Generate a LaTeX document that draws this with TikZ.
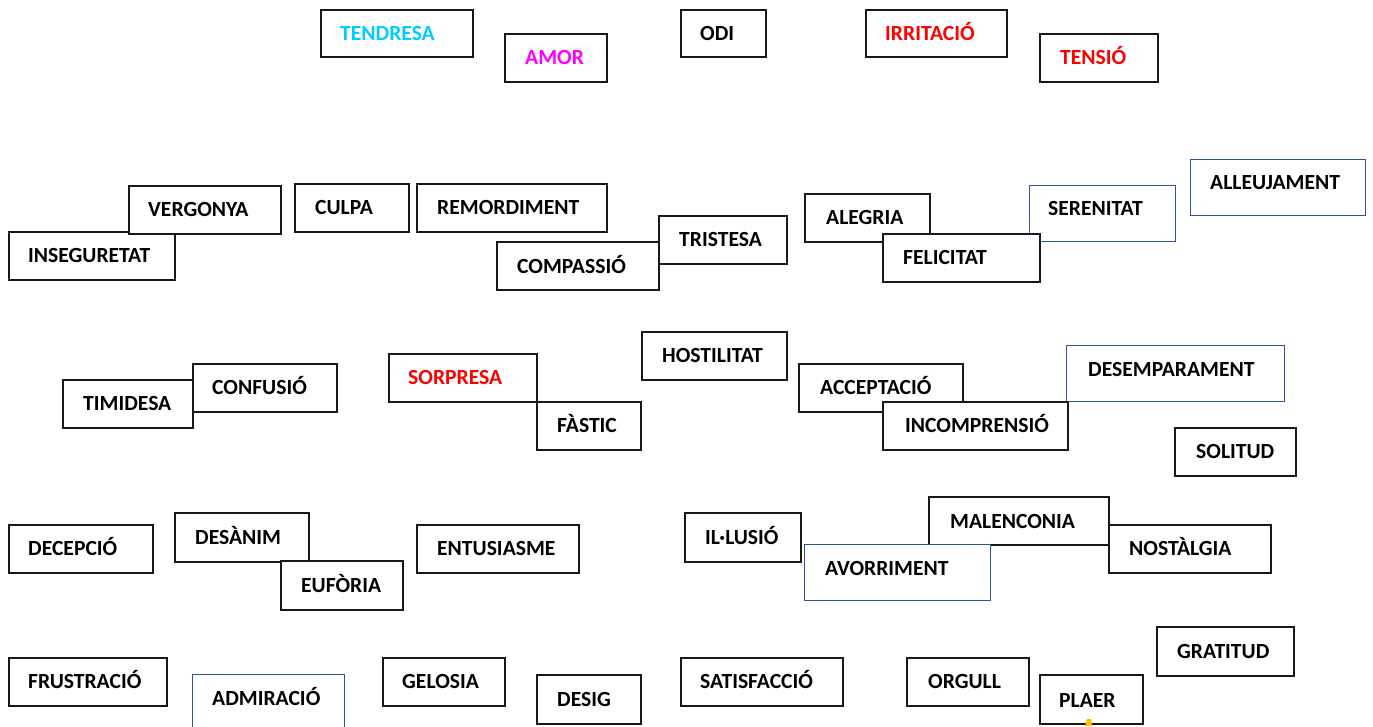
\documentclass[tikz,border=0pt]{standalone}
\usepackage{fontspec}
\setmainfont{Carlito}
\definecolor{bblue}{RGB}{47,85,151}
\definecolor{tcyan}{RGB}{0,204,255}
\definecolor{tmag}{RGB}{255,0,255}
\definecolor{tred}{RGB}{255,0,0}
\definecolor{blobyellow}{RGB}{255,192,0}
\tikzset{
  kbox/.style={draw=black!90, line width=2pt, fill=white, anchor=north west, inner sep=0pt},
  bbox/.style={draw=bblue, line width=1.3pt, fill=white, anchor=north west, inner sep=0pt},
  lbl/.style={anchor=west, inner sep=0pt, text height=14pt, text depth=0pt,
    font=\fontsize{21.6}{26}\selectfont\bfseries},
}
% name, boxstyle, x1, y1, x2, y2, tx, ty, text
\newcommand\emobox[9]{%
  \node[#2, minimum width={(#5-#3)*1pt}, minimum height={(#6-#4)*1pt}] (#1) at (#3,#4) {};
  \node[lbl] (#1t) at (#7,#8) {#9};
}
\begin{document}
\begin{tikzpicture}[x=1pt,y=-1pt]
\useasboundingbox (0,0) rectangle (1373,726);
% row 1
\emobox{tendresa}{kbox}{320}{9}{472}{56}{340}{33}{\textcolor{tcyan}{TENDRESA}}
\emobox{amor}{kbox}{504}{33}{606}{81}{525}{57}{\textcolor{tmag}{AMOR}}
\emobox{odi}{kbox}{680}{9}{765}{56}{700}{33}{ODI}
\emobox{irritacio}{kbox}{865}{9}{1006}{56}{885}{33}{\textcolor{tred}{IRRITACIÓ}}
\emobox{tensio}{kbox}{1039}{33}{1157}{81}{1060}{57}{\textcolor{tred}{TENSIÓ}}
% row 2
\emobox{inseguretat}{kbox}{8}{231}{174}{279}{28}{255}{INSEGURETAT}
\emobox{vergonya}{kbox}{128}{185}{280}{233}{148}{209}{VERGONYA}
\emobox{culpa}{kbox}{294}{183}{408}{231}{315}{207}{CULPA}
\emobox{remordiment}{kbox}{416}{183}{606}{231}{437}{207}{REMORDIMENT}
\emobox{tristesa}{kbox}{658}{215}{786}{263}{679}{239}{TRISTESA}
\emobox{compassio}{kbox}{496}{241}{658}{289}{517}{266}{COMPASSIÓ}
\emobox{alleujament}{bbox}{1190}{159}{1365}{215}{1210}{182}{ALLEUJAMENT}
\emobox{alegria}{kbox}{804}{193}{929}{241}{826}{217}{ALEGRIA}
\emobox{serenitat}{bbox}{1029}{185}{1175}{241}{1048}{208}{SERENITAT}
\emobox{felicitat}{kbox}{882}{233}{1039}{281}{903}{257}{FELICITAT}
% row 3
\emobox{timidesa}{kbox}{62}{379}{192}{427}{83}{403}{TIMIDESA}
\emobox{confusio}{kbox}{192}{363}{336}{411}{212}{387}{CONFUSIÓ}
\emobox{sorpresa}{kbox}{388}{353}{536}{401}{408}{377}{\textcolor{tred}{SORPRESA}}
\emobox{fastic}{kbox}{536}{401}{640}{449}{557}{425}{FÀSTIC}
\emobox{hostilitat}{kbox}{641}{331}{786}{379}{662}{355}{HOSTILITAT}
\emobox{acceptacio}{kbox}{798}{363}{962}{411}{820}{387}{ACCEPTACIÓ}
\emobox{desemparament}{bbox}{1066}{345}{1284}{401}{1088}{369}{DESEMPARAMENT}
\emobox{incomprensio}{kbox}{882}{401}{1067}{449}{905}{425}{INCOMPRENSIÓ}
\emobox{solitud}{kbox}{1174}{427}{1295}{475}{1196}{451}{SOLITUD}
% row 4
\emobox{decepcio}{kbox}{8}{524}{152}{572}{28}{548}{DECEPCIÓ}
\emobox{desanim}{kbox}{174}{512}{308}{561}{195}{537}{DESÀNIM}
\emobox{euforia}{kbox}{280}{560}{402}{609}{301}{585}{EUFÒRIA}
\emobox{entusiasme}{kbox}{416}{524}{578}{572}{437}{548}{ENTUSIASME}
\emobox{illusio}{kbox}{684}{512}{800}{561}{705}{537}{IL·LUSIÓ}
\emobox{malenconia}{kbox}{928}{496}{1108}{544}{950}{521}{MALENCONIA}
\emobox{avorriment}{bbox}{804}{544}{990}{600}{825}{568}{AVORRIMENT}
\emobox{nostalgia}{kbox}{1108}{524}{1270}{572}{1129}{548}{NOSTÀLGIA}
% row 5
\emobox{frustracio}{kbox}{8}{657}{166}{705}{28}{681}{FRUSTRACIÓ}
\emobox{admiracio}{bbox}{192}{674}{344}{732}{212}{698}{ADMIRACIÓ}
\emobox{gelosia}{kbox}{382}{657}{504}{705}{402}{681}{GELOSIA}
\emobox{desig}{kbox}{536}{674}{640}{723}{557}{699}{DESIG}
\emobox{satisfaccio}{kbox}{680}{657}{842}{705}{700}{681}{SATISFACCIÓ}
\emobox{orgull}{kbox}{906}{657}{1028}{705}{928}{681}{ORGULL}
\emobox{gratitud}{kbox}{1156}{626}{1293}{675}{1177}{651}{GRATITUD}
\emobox{plaer}{kbox}{1039}{674}{1142}{723}{1059}{700}{PLAER}
\fill[blobyellow] (1085,726) -- (1087,719) -- (1091,719) -- (1092,726) -- cycle;
\end{tikzpicture}
\end{document}
